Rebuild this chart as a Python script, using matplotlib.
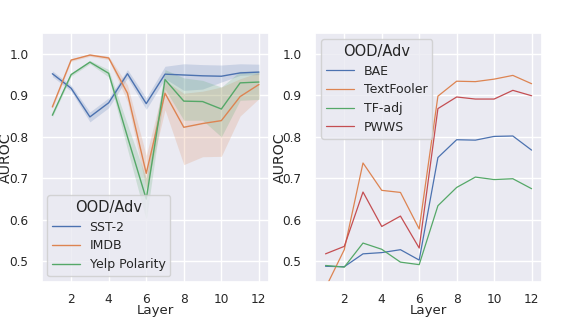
import matplotlib
matplotlib.use("Agg")
import matplotlib.pyplot as plt
import numpy as np
import seaborn as sns

# layers
layers = np.arange(1, 13)

# left panel: OOD datasets (mean and band)
sst2       = [0.952, 0.917, 0.848, 0.882, 0.952, 0.880, 0.951, 0.949, 0.947, 0.946, 0.954, 0.956]
sst2_lo    = [0.945, 0.910, 0.836, 0.870, 0.942, 0.866, 0.940, 0.912, 0.915, 0.932, 0.948, 0.950]
sst2_hi    = [0.959, 0.924, 0.860, 0.894, 0.962, 0.894, 0.970, 0.976, 0.974, 0.973, 0.976, 0.975]

imdb       = [0.872, 0.985, 0.997, 0.990, 0.905, 0.712, 0.905, 0.823, 0.832, 0.839, 0.897, 0.926]
imdb_lo    = [0.868, 0.982, 0.994, 0.986, 0.885, 0.675, 0.865, 0.733, 0.752, 0.753, 0.850, 0.892]
imdb_hi    = [0.876, 0.988, 1.000, 0.994, 0.925, 0.755, 0.935, 0.905, 0.910, 0.920, 0.940, 0.955]

yelp       = [0.852, 0.950, 0.980, 0.953, 0.800, 0.650, 0.938, 0.886, 0.885, 0.867, 0.930, 0.932]
yelp_lo    = [0.848, 0.946, 0.976, 0.944, 0.770, 0.600, 0.915, 0.840, 0.840, 0.800, 0.888, 0.890]
yelp_hi    = [0.856, 0.954, 0.984, 0.962, 0.830, 0.700, 0.962, 0.942, 0.936, 0.920, 0.958, 0.958]

# right panel: adversarial attacks
bae        = [0.488, 0.487, 0.518, 0.521, 0.528, 0.503, 0.750, 0.793, 0.792, 0.801, 0.802, 0.768]
textfooler = [0.436, 0.528, 0.737, 0.671, 0.666, 0.578, 0.898, 0.934, 0.933, 0.939, 0.948, 0.928]
tf_adj     = [0.490, 0.486, 0.544, 0.529, 0.498, 0.492, 0.634, 0.678, 0.703, 0.697, 0.699, 0.675]
pwws       = [0.518, 0.536, 0.667, 0.584, 0.609, 0.532, 0.868, 0.896, 0.891, 0.891, 0.912, 0.899]

sns.set_theme(style="darkgrid")
plt.rcParams['font.family'] = ['DejaVu Sans']
colors = sns.color_palette("deep")

fig = plt.figure(figsize=(5.68, 3.18), dpi=100)
ax1 = fig.add_axes([0.074, 0.113, 0.400, 0.783])
ax2 = fig.add_axes([0.555, 0.113, 0.399, 0.783])

# left: lines with bands
left_series = [("SST-2", sst2, sst2_lo, sst2_hi),
               ("IMDB", imdb, imdb_lo, imdb_hi),
               ("Yelp Polarity", yelp, yelp_lo, yelp_hi)]
for i, (name, mean, lo, hi) in enumerate(left_series):
    ax1.fill_between(layers, lo, hi, color=colors[i], alpha=0.2, linewidth=0)
    ax1.plot(layers, mean, color=colors[i], lw=1.0, label=name)

# right: plain lines
right_series = [("BAE", bae), ("TextFooler", textfooler), ("TF-adj", tf_adj), ("PWWS", pwws)]
for i, (name, vals) in enumerate(right_series):
    ax2.plot(layers, vals, color=colors[i], lw=0.9, label=name)

for ax in (ax1, ax2):
    ax.set_ylim(0.45, 1.05)
    ax.set_xlim(0.45, 12.55)
    ax.set_xticks([2, 4, 6, 8, 10, 12])
    ax.set_yticks([0.5, 0.6, 0.7, 0.8, 0.9, 1.0])
    ax.tick_params(axis="x", labelsize=8.7, pad=2)
    ax.tick_params(axis="y", labelsize=8.7, pad=3.8)
    ax.set_xlabel("Layer", fontsize=9.6)
    ax.set_ylabel("AUROC", fontsize=10.2)
    ax.xaxis.set_label_coords(0.5, -0.127)
    ax.xaxis.label.set_verticalalignment("baseline")
    ax.yaxis.set_label_coords(-0.127, 0.5)

leg1 = ax1.legend(title="OOD/Adv", loc="lower left", fontsize=9, title_fontsize=10.5,
                  bbox_to_anchor=(0.022, 0.024), borderaxespad=0, handlelength=2.2,
                  labelspacing=0.45)
leg2 = ax2.legend(title="OOD/Adv", loc="upper left", fontsize=9, title_fontsize=10.5,
                  bbox_to_anchor=(0.026, 0.976), borderaxespad=0, handlelength=2.2,
                  labelspacing=0.45)

fig.savefig("out.png", dpi=100)
